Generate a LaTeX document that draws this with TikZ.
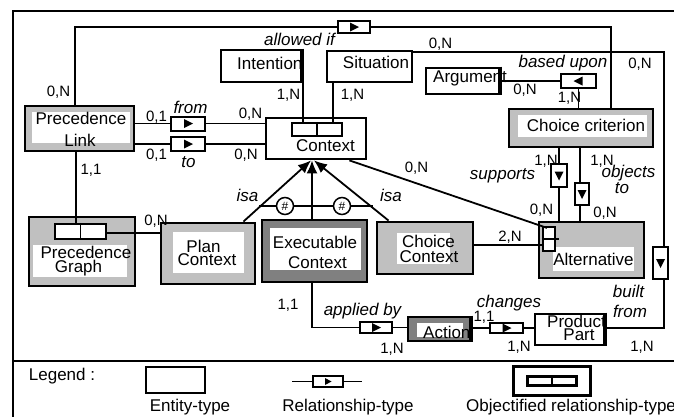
\documentclass[tikz,border=0pt]{standalone}
\usepackage{fontspec}
\setmainfont{Liberation Sans}
\usetikzlibrary{arrows.meta}
\definecolor{lgray}{HTML}{C0C0C0}
\definecolor{dgray}{HTML}{808080}
\begin{document}
\begin{tikzpicture}[x=1pt,y=-1pt,
  ent/.style={draw, line width=2.8pt, fill=white, inner sep=0pt},
  gent/.style={ent, fill=lgray},
  dent/.style={ent, fill=dgray},
  obj/.style={draw, line width=2.2pt, fill=white, inner sep=0pt},
  rel/.style={draw, line width=2pt, fill=white, inner sep=0pt},
  conn/.style={line width=1.8pt},
  isa/.style={line width=1.8pt, -{Latex[length=13pt,width=11pt]}},
  wpatch/.style={fill=white, draw=none, inner sep=0pt},
  txt/.style={font=\fontsize{17}{17}\selectfont, inner sep=0pt, anchor=base},
  txtw/.style={font=\fontsize{17}{17}\selectfont, inner sep=0pt, anchor=base west},
  lab/.style={font=\fontsize{17}{17}\selectfont\itshape, inner sep=0pt, anchor=base},
  card/.style={font=\fontsize{15}{15}\selectfont, inner sep=0pt, anchor=base},
  triR/.style={path picture={\fill[black] ([xshift=-4pt,yshift=4.5pt]path picture bounding box.center) -- ([xshift=5pt]path picture bounding box.center) -- ([xshift=-4pt,yshift=-4.5pt]path picture bounding box.center) -- cycle;}},
  triL/.style={path picture={\fill[black] ([xshift=4pt,yshift=4.5pt]path picture bounding box.center) -- ([xshift=-5pt]path picture bounding box.center) -- ([xshift=4pt,yshift=-4.5pt]path picture bounding box.center) -- cycle;}},
  triD/.style={path picture={\fill[black] ([xshift=-4.5pt,yshift=4pt]path picture bounding box.center) -- ([yshift=-5pt]path picture bounding box.center) -- ([xshift=4.5pt,yshift=4pt]path picture bounding box.center) -- cycle;}},
  triRs/.style={path picture={\fill[black] ([xshift=-3pt,yshift=3.5pt]path picture bounding box.center) -- ([xshift=3.5pt]path picture bounding box.center) -- ([xshift=-3pt,yshift=-3.5pt]path picture bounding box.center) -- cycle;}},
  hashc/.style={circle, draw, line width=1.5pt, fill=white, inner sep=0pt, minimum size=17pt, font=\fontsize{12}{12}\selectfont}
]
\useasboundingbox (0,0) rectangle (674,416);
% frame
\draw[line width=2pt] (690,11) -- (13,11) -- (13,430);
\draw[line width=2pt] (13,361) -- (690,361);

% ---------- entities ----------
\node[gent, minimum width=109pt, minimum height=45pt] (pl) at (79.5,128.5) {};
\node[wpatch, minimum width=98pt, minimum height=31pt] (plw) at (81,127.5) {};
\node[txt] (plt1) at (81,124) {Precedence};
\node[txt] (plt2) at (80,146) {Link};

\node[ent, minimum width=80pt, minimum height=32pt] (int) at (261,66) {};
\node[txtw] (intt) at (237,69) {Intention};
\node[ent, minimum width=85pt, minimum height=31pt] (sit) at (369.5,66.5) {};
\node[txt] (sitt) at (376,68) {Situation};
\node[ent, minimum width=73pt, minimum height=26pt] (arg) at (462.5,81) {};
\node[txtw] (argt) at (433,82) {Argument};

\node[ent, minimum width=100pt, minimum height=41pt] (ctx) at (316,138.5) {};
\node[obj, minimum width=50pt, minimum height=13pt] (ctxo) at (317,129.5) {};
\draw[line width=1.5pt] (ctxo.north) -- (ctxo.south);
\node[txt] (ctxt) at (325.5,151) {Context};

\node[gent, minimum width=144pt, minimum height=38pt] (cc) at (581,128) {};
\node[wpatch, minimum width=129pt, minimum height=22pt] (ccw) at (582.5,126) {};
\node[txt] (cct) at (586,131) {Choice criterion};

\node[gent, minimum width=106pt, minimum height=69pt] (pg) at (82,251.5) {};
\node[wpatch, minimum width=94pt, minimum height=32pt] (pgw) at (80,261) {};
\node[obj, minimum width=51pt, minimum height=15pt] (pgo) at (80.5,231.5) {};
\draw[line width=1.5pt] (pgo.north) -- (pgo.south);
\node[txt] (pgt1) at (86,258) {Precedence};
\node[txt] (pgt2) at (78.5,272) {Graph};

\node[gent, minimum width=94pt, minimum height=61pt] (pc) at (208,253.5) {};
\node[wpatch, minimum width=71pt, minimum height=41pt] (pcw) at (208.5,252.5) {};
\node[txt] (pct1) at (203.5,252) {Plan};
\node[txt] (pct2) at (207,265) {Context};

\node[dent, minimum width=105pt, minimum height=62pt] (exc) at (314.5,251) {};
\node[wpatch, minimum width=91pt, minimum height=42pt] (excw) at (315.5,249) {};
\node[txt] (exct1) at (315,248) {Executable};
\node[txt] (exct2) at (317.5,268) {Context};

\node[gent, minimum width=96pt, minimum height=52pt] (chc) at (425,248) {};
\node[wpatch, minimum width=53pt, minimum height=31pt] (chcw) at (423.5,248.5) {};
\node[txt] (chct1) at (428.5,247) {Choice};
\node[txt] (chct2) at (429,262) {Context};

\node[gent, minimum width=105pt, minimum height=56pt] (alt) at (591.5,250) {};
\node[wpatch, minimum width=81pt, minimum height=24pt] (altw) at (593.5,259) {};
\node[obj, minimum width=12pt, minimum height=24pt] (alto) at (549,239) {};
\draw[line width=1.5pt] (alto.west) -- ([xshift=3pt]alto.east);
\node[txt] (altt) at (593.5,265) {Alternative};

\node[dent, minimum width=62pt, minimum height=24pt] (act) at (439,329) {};
\node[wpatch, minimum width=46pt, minimum height=14pt] (actw) at (440,330) {};
\node[txtw] (actt) at (423,338) {Action};

\node[ent, minimum width=69pt, minimum height=31pt] (pp) at (569.5,329.5) {};
\node[txtw] (ppt1) at (547,327) {Product};
\node[txt] (ppt2) at (579,340.5) {Part};
% redraw borders clipped over overflowing text
\draw[line width=2.8pt] (int.north east) -- (int.south east);
\draw[line width=2.8pt] (arg.north east) -- (arg.south east);
\draw[line width=2.8pt] (act.north east) -- (act.south east);
\draw[line width=2.8pt] (pp.north east) -- (pp.south east);

% ---------- relationship boxes ----------
\node[rel, triR, minimum width=32pt, minimum height=12pt] (aif) at (354,27) {};
\node[rel, triL, minimum width=35pt, minimum height=14pt] (bu) at (578.5,81) {};
\node[rel, triR, minimum width=34pt, minimum height=14pt] (fromr) at (188,123.5) {};
\node[rel, triR, minimum width=34pt, minimum height=14pt] (tor) at (188,144) {};
\node[rel, triD, minimum width=16pt, minimum height=23pt] (sup) at (559,175.5) {};
\node[rel, triD, minimum width=14pt, minimum height=22pt] (objr) at (582,194) {};
\node[rel, triD, minimum width=15pt, minimum height=32pt] (bfr) at (660.5,263) {};
\node[rel, triR, minimum width=32pt, minimum height=11pt] (abr) at (376,327.5) {};
\node[rel, triR, minimum width=33pt, minimum height=10pt] (chr) at (506.5,328) {};

% ---------- connectors ----------
\draw[conn] ([xshift=-4.5pt]pl.north) |- (aif.west);
\draw[conn] (aif.east) -| ([xshift=30pt]cc.north);
\draw[conn] ([yshift=-2pt]sit.north east) -| ([xshift=3.5pt]bfr.north);
\draw[conn] ([xshift=3.5pt]bfr.south) |- ([yshift=1.5pt]pp.east);
\draw[conn] (fromr.west -| pl.east) -- (fromr.west);
\draw[conn] (fromr.east) -- (fromr.east -| ctx.west);
\draw[conn] (tor.west -| pl.east) -- (tor.west);
\draw[conn] (tor.east) -- (tor.east -| ctx.west);
\draw[conn] ([xshift=42pt]int.south) -- ([xshift=-14pt]ctxo.north);
\draw[conn] ([xshift=-36.5pt]sit.south) -- ([xshift=16pt]ctxo.north);
\draw[conn] (arg.east) -- (bu.west);
\draw[conn] (bu.south) -- (bu.south |- cc.north);
\draw[conn] (sup.north |- cc.south) -- (sup.north);
\draw[conn] (sup.south) -- (sup.south |- alt.north);
\coordinate (ox) at ([xshift=-2pt]objr.north);
\coordinate (oxs) at ([xshift=-2pt]objr.south);
\draw[conn] (ox |- cc.south) -- (ox);
\draw[conn] (oxs) -- (oxs |- alt.north);
\coordinate (plg) at ([xshift=-4.5pt]pgo.north);
\draw[conn] (plg |- pl.south) -- (plg);
\draw[conn] ([yshift=-1.5pt]pgo.east) -- ([yshift=-1.5pt]pgo.east -| pc.west);
\draw[conn] ([xshift=-18pt]ctx.south east) -- ([xshift=-2pt,yshift=-2pt]alto.north);
\coordinate (altin) at ([yshift=-6pt]alto.west);
\draw[conn] (altin -| chc.east) -- (altin);
\coordinate (exd) at ([xshift=-2.5pt]exc.south);
\draw[conn] (exd) |- (abr.west);
\draw[conn] (abr.east) -- (abr.east -| act.west);
\draw[conn] (chr.west -| act.east) -- (chr.west);
\draw[conn] (chr.east) -- (chr.east -| pp.west);

% ---------- isa ----------
\coordinate (isaL) at ([xshift=-13pt]pc.north east);
\coordinate (isaM) at ([xshift=-2.5pt]exc.north);
\coordinate (isaR) at ([xshift=13pt]chc.north west);
\draw[isa] (isaL) -- ([xshift=-5pt]ctx.south);
\draw[isa] (isaM) -- ([xshift=-4pt]ctx.south);
\draw[isa] (isaR) -- ([xshift=-2pt]ctx.south);
\coordinate (hl) at (259,206);
\coordinate (hr) at (373,206);
\draw[conn] (hl) -- (hr);
\node[hashc] (h1) at (285,206) {\#};
\node[hashc] (h2) at (342,206) {\#};

% ---------- labels ----------
\node[lab] (l1) at (299.5,45) {allowed if};
\node[lab] (l2) at (190.5,113) {from};
\node[lab] (l3) at (188.5,167) {to};
\node[lab] (l4) at (563,67) {based upon};
\node[lab] (l5) at (502.5,179) {supports};
\node[lab] (l6) at (628.5,177) {objects};
\node[lab] (l7) at (622,193) {to};
\node[lab] (l8) at (247.5,201.5) {isa};
\node[lab] (l9) at (391,201.5) {isa};
\node[lab] (l10) at (362.5,315) {applied by};
\node[lab] (l11) at (509,307) {changes};
\node[lab] (l12) at (628.5,297) {built};
\node[lab] (l13) at (630,317) {from};

\node[card] (c1) at (58.5,96) {0,N};
\node[card] (c2) at (156.5,121) {0,1};
\node[card] (c3) at (250.5,118) {0,N};
\node[card] (c4) at (156.5,159) {0,1};
\node[card] (c5) at (246,159) {0,N};
\node[card] (c6) at (91,174) {1,1};
\node[card] (c7) at (288.5,99) {1,N};
\node[card] (c8) at (352.5,99) {1,N};
\node[card] (c9) at (440.5,48) {0,N};
\node[card] (c10) at (640,68) {0,N};
\node[card] (c11) at (525,94) {0,N};
\node[card] (c12) at (569.5,102) {1,N};
\node[card] (c13) at (546,165) {1,N};
\node[card] (c14) at (602,165) {1,N};
\node[card] (c15) at (416.5,172) {0,N};
\node[card] (c16) at (541.5,214) {0,N};
\node[card] (c17) at (605,217) {0,N};
\node[card] (c18) at (510,241) {2,N};
\node[card] (c19) at (288,309) {1,1};
\node[card] (c20) at (392,353) {1,N};
\node[card] (c21) at (484,321) {1,1};
\node[card] (c22) at (519,351) {1,N};
\node[card] (c23) at (642,351) {1,N};
\node[card] (c24) at (156,225) {0,N};

% ---------- legend ----------
\node[txt] (legt) at (62,380) {Legend :};
\node[ent, line width=2.5pt, minimum width=59pt, minimum height=26pt] (lege) at (175.5,380) {};
\node[txt] (legel) at (190,411) {Entity-type};
\coordinate (lrl) at (292,381.5);
\coordinate (lrr) at (362,381.5);
\node[rel, triRs, minimum width=30pt, minimum height=11pt] (legr) at (328,381.5) {};
\draw[conn] (lrl) -- (legr.west);
\draw[conn] (legr.east) -- (lrr);
\node[txt] (legrl) at (348,411) {Relationship-type};
\node[ent, line width=2.5pt, minimum width=77pt, minimum height=29pt] (lego) at (552,381) {};
\node[obj, minimum width=49pt, minimum height=9pt] (legoi) at (552,381) {};
\draw[line width=1.5pt] (legoi.north) -- (legoi.south);
\node[txtw] (legol) at (466,411) {Objectified relationship-type};
\end{tikzpicture}
\end{document}
